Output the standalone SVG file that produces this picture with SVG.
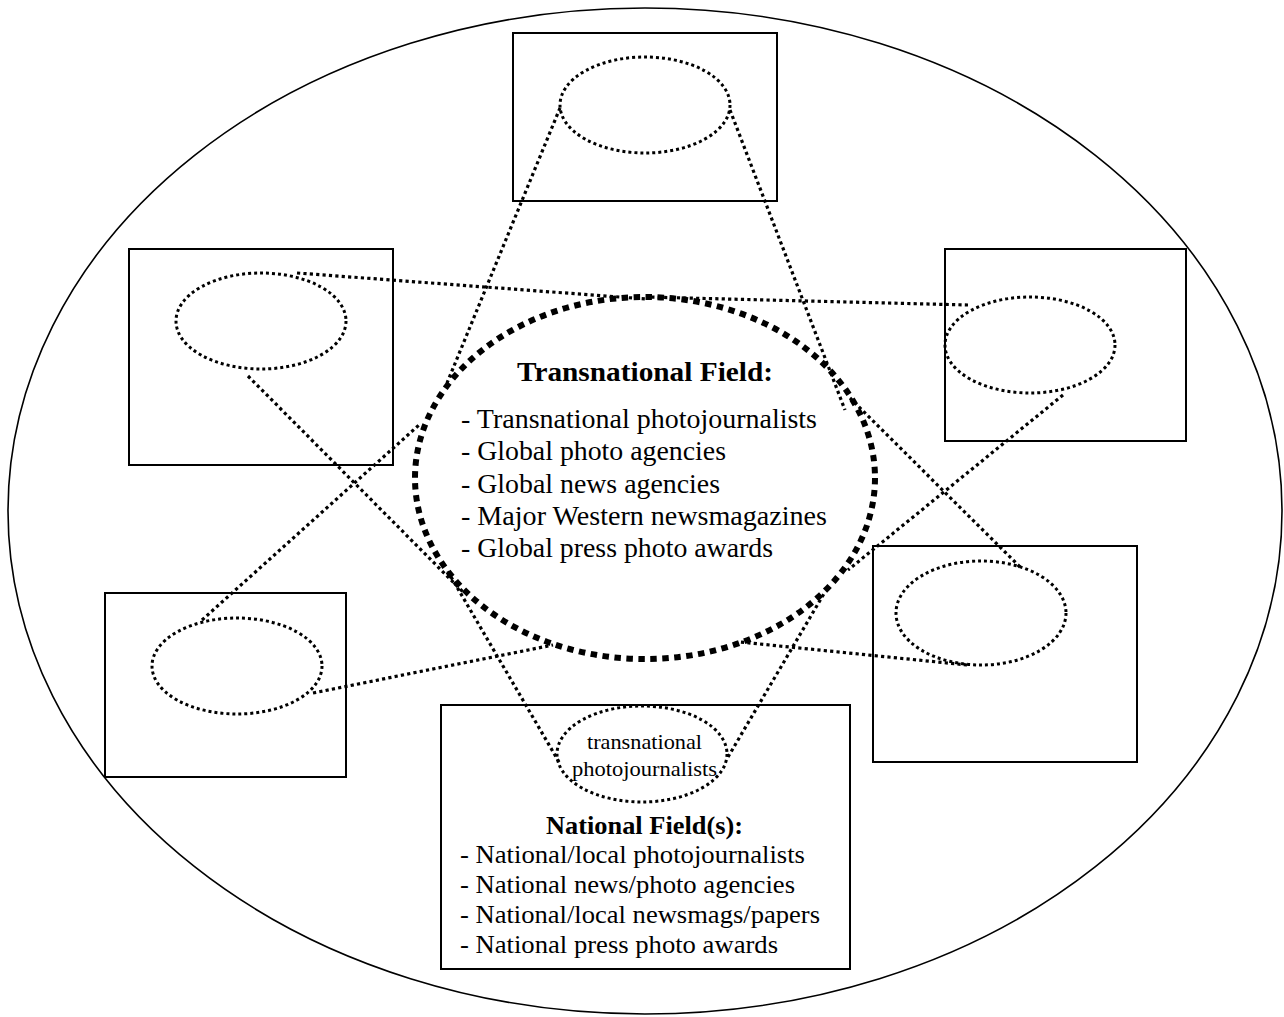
<svg xmlns="http://www.w3.org/2000/svg" width="1284" height="1017" viewBox="0 0 1284 1017">
<style>
.box{fill:none;stroke:#000;stroke-width:2}
.dot{fill:none;stroke:#000;stroke-width:3;stroke-dasharray:3 3}
.con{fill:none;stroke:#000;stroke-width:3.2;stroke-dasharray:3.2 3.2}
.big{fill:none;stroke:#000;stroke-width:6;stroke-dasharray:6.5 5.5}
.t{font-family:"Liberation Serif","Times New Roman",serif;fill:#000}
.b{font-weight:bold}
</style>
<rect width="1284" height="1017" fill="#fff"/>
<g id="outer"><ellipse cx="645" cy="511" rx="637" ry="503" fill="none" stroke="#000" stroke-width="1.6"/></g>
<g id="node-top"><rect class="box" x="513" y="33" width="264" height="168"/><ellipse class="dot" cx="645" cy="105" rx="85" ry="48"/></g>
<g id="node-left-top"><rect class="box" x="129" y="249" width="264" height="216"/><ellipse class="dot" cx="261" cy="321" rx="85" ry="48"/></g>
<g id="node-right-top"><rect class="box" x="945" y="249" width="241" height="192"/><ellipse class="dot" cx="1030" cy="345" rx="85" ry="48"/></g>
<g id="node-left-bottom"><rect class="box" x="105" y="593" width="241" height="184"/><ellipse class="dot" cx="237" cy="666" rx="85" ry="48"/></g>
<g id="node-right-bottom"><rect class="box" x="873" y="546" width="264" height="216"/><ellipse class="dot" cx="981" cy="613" rx="85" ry="52"/></g>
<g id="node-national"><rect class="box" x="441" y="705" width="409" height="264"/><ellipse class="dot" cx="642" cy="754" rx="85" ry="48"/>
<text class="t" font-size="21" x="587" y="749" textLength="115" lengthAdjust="spacingAndGlyphs">transnational</text>
<text class="t" font-size="21" x="572" y="776" textLength="145" lengthAdjust="spacingAndGlyphs">photojournalists</text>
<text class="t b" font-size="26" x="546" y="834" textLength="197" lengthAdjust="spacingAndGlyphs">National Field(s):</text>
<text class="t" font-size="26" x="460" y="863" textLength="345" lengthAdjust="spacingAndGlyphs">- National/local photojournalists</text>
<text class="t" font-size="26" x="460" y="893" textLength="335" lengthAdjust="spacingAndGlyphs">- National news/photo agencies</text>
<text class="t" font-size="26" x="460" y="923" textLength="360" lengthAdjust="spacingAndGlyphs">- National/local newsmags/papers</text>
<text class="t" font-size="26" x="460" y="953" textLength="318" lengthAdjust="spacingAndGlyphs">- National press photo awards</text>
</g>
<g id="node-transnational"><ellipse class="big" cx="645" cy="478" rx="230" ry="181"/>
<text class="t b" font-size="28" x="517" y="381" textLength="256" lengthAdjust="spacingAndGlyphs">Transnational Field:</text>
<text class="t" font-size="27" x="461" y="428" textLength="356" lengthAdjust="spacingAndGlyphs">- Transnational photojournalists</text>
<text class="t" font-size="27" x="461" y="460" textLength="265" lengthAdjust="spacingAndGlyphs">- Global photo agencies</text>
<text class="t" font-size="27" x="461" y="493" textLength="259" lengthAdjust="spacingAndGlyphs">- Global news agencies</text>
<text class="t" font-size="27" x="461" y="525" textLength="366" lengthAdjust="spacingAndGlyphs">- Major Western newsmagazines</text>
<text class="t" font-size="27" x="461" y="557" textLength="312" lengthAdjust="spacingAndGlyphs">- Global press photo awards</text>
</g>
<g id="connectors">
<line class="con" x1="560" y1="108" x2="447" y2="383"/>
<line class="con" x1="730" y1="110" x2="845" y2="410"/>
<line class="con" x1="297" y1="273" x2="646" y2="299"/>
<line class="con" x1="248" y1="376" x2="463" y2="592"/>
<line class="con" x1="968" y1="305" x2="646" y2="297"/>
<line class="con" x1="1063" y1="395" x2="848" y2="570"/>
<line class="con" x1="202" y1="620" x2="419" y2="425"/>
<line class="con" x1="313" y1="693" x2="553" y2="645"/>
<line class="con" x1="1020" y1="567" x2="850" y2="398"/>
<line class="con" x1="967" y1="665" x2="740" y2="642"/>
<line class="con" x1="559" y1="762" x2="447" y2="570"/>
<line class="con" x1="728" y1="757" x2="825" y2="592"/>
</g>
</svg>
